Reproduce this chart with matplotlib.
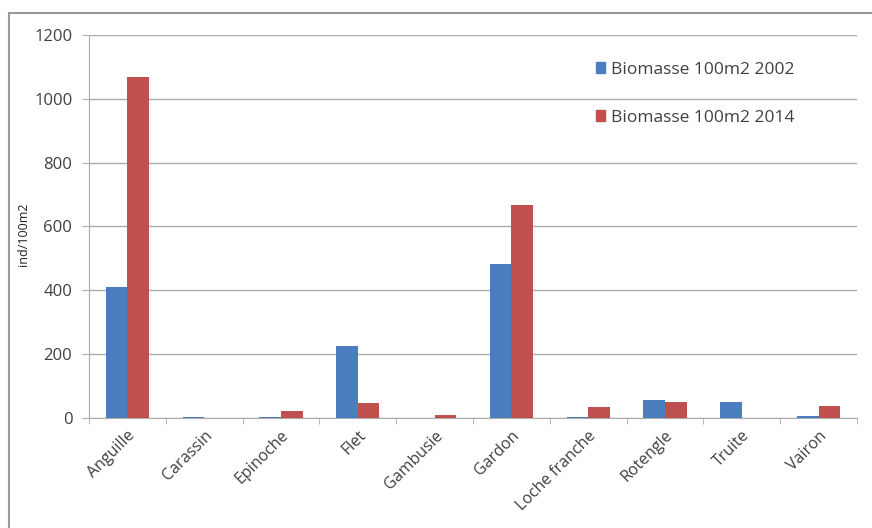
import numpy as np
import matplotlib.pyplot as plt
from matplotlib.patches import Rectangle
from matplotlib.lines import Line2D

especes = ["Anguille", "Carassin", "Epinoche", "Flet", "Gambusie",
           "Gardon", "Loche franche", "Rotengle", "Truite", "Vairon"]
biomasse_2002 = [412, 3, 3, 225, 0, 483, 3, 56, 49, 6]
biomasse_2014 = [1069, 0, 23, 46, 9, 666, 36, 50, 0, 37]
serie_labels = ["Biomasse 100m2 2002", "Biomasse 100m2 2014"]
yticks = [0, 200, 400, 600, 800, 1000, 1200]

BLUE = "#4A7EBF"
RED = "#C0504D"
GRID = "#ABABAB"
TXT = "#404040"

plt.rcParams['font.family'] = ['Open Sans', 'DejaVu Sans']

fig = plt.figure(figsize=(8.72, 5.28), dpi=100)
ax = fig.add_axes([89 / 872, 1 - 418 / 528, (857 - 89) / 872, (418 - 35) / 528])

x = np.arange(len(especes))
w = 0.28
ax.bar(x - w / 2, biomasse_2002, w, color=BLUE, zorder=3)
ax.bar(x + w / 2, biomasse_2014, w, color=RED, zorder=3)

ax.set_xlim(-0.5, len(especes) - 0.5)
ax.set_ylim(0, 1200)
ax.set_yticks(yticks)
ax.set_yticklabels([str(v) for v in yticks], fontsize=12, color=TXT)
ax.yaxis.grid(True, color=GRID, linewidth=1.0, zorder=0)

# category labels, ticks placed between categories
ax.set_xticks(x)
ax.set_xticklabels(especes, rotation=45, ha='right', rotation_mode='anchor',
                   fontsize=11.5, color=TXT)
ax.tick_params(axis='x', length=0, pad=7)
ax.set_xticks(np.arange(-0.5, len(especes)), minor=True)
ax.tick_params(axis='x', which='minor', length=4, color=GRID, direction='out')
ax.tick_params(axis='y', length=5, color=GRID, direction='out', pad=7)

for side in ['top', 'right']:
    ax.spines[side].set_visible(False)
ax.spines['left'].set_color(GRID)
ax.spines['bottom'].set_color(GRID)

ax.set_ylabel("ind/100m2", fontsize=9, color="#202020")
ax.yaxis.set_label_coords(-0.077, 0.48)

handles = [Rectangle((0, 0), 1, 1, color=BLUE), Rectangle((0, 0), 1, 1, color=RED)]
leg = fig.legend(handles, serie_labels, loc='upper left',
                 bbox_to_anchor=(580 / 872, 1 - 46 / 528), frameon=False,
                 fontsize=12.5, handlelength=0.55, handleheight=0.55,
                 handletextpad=0.35, labelspacing=1.85)
for t in leg.get_texts():
    t.set_color(TXT)

# outer chart border
fig.add_artist(Line2D([9 / 872, 9 / 872], [0, 1 - 13 / 528],
                      transform=fig.transFigure, color="#999999", linewidth=1.5))
fig.add_artist(Line2D([9 / 872, 1], [1 - 13 / 528, 1 - 13 / 528],
                      transform=fig.transFigure, color="#999999", linewidth=1.5))

fig.savefig("out.png", dpi=100)
